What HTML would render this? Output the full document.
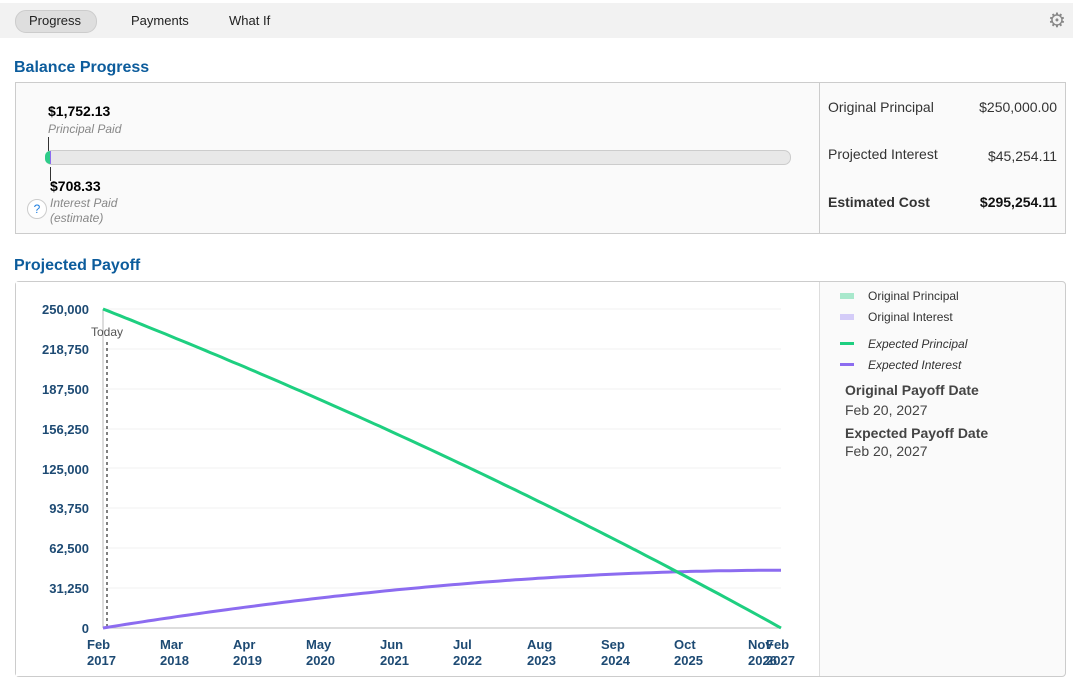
<!DOCTYPE html><html><head><style>
body{margin:0;width:1073px;height:685px;background:#fff;font-family:"Liberation Sans",sans-serif;position:relative;overflow:hidden}
.a{position:absolute}
.tab{font-size:13px;color:#222;top:13px}
h2{position:absolute;margin:0;font-size:16px;color:#0c5c9c;font-weight:bold}
.box{position:absolute;border:1px solid #ccc;background:#fafafa}
.r{font-size:14px;color:#333}
.yl{position:absolute;font-size:13px;font-weight:bold;color:#1d4a73;text-align:right;width:80px;left:9px}
.xl{position:absolute;font-size:13px;font-weight:bold;color:#1d4a73;line-height:16px;top:637px}
.lg{position:absolute;font-size:12px;color:#333;left:868px}
</style></head><body>
<div class="a" style="left:0;top:3px;width:1073px;height:35px;background:#f2f2f2"></div>
<div class="a" style="left:15px;top:10px;width:80px;height:21px;border-radius:11px;background:#dedede;border:1px solid #ccc"></div>
<div class="a tab" style="left:29px">Progress</div>
<div class="a tab" style="left:131px">Payments</div>
<div class="a tab" style="left:229px">What If</div>
<div class="a" style="left:1048px;top:8px;font-size:20px;color:#888">⚙</div>
<h2 style="left:14px;top:59px">Balance Progress</h2>
<div class="box" style="left:15px;top:82px;width:1049px;height:150px"></div>
<div class="a" style="left:819px;top:83px;width:1px;height:150px;background:#ccc"></div>
<div class="a" style="left:48px;top:103px;font-size:14px;font-weight:bold">$1,752.13</div>
<div class="a" style="left:48px;top:122px;font-size:12px;font-style:italic;color:#888">Principal Paid</div>
<div class="a" style="left:48px;top:137px;width:1px;height:14px;background:#333"></div>
<div class="a" style="left:45px;top:150px;width:744px;height:13px;border-radius:7px;background:#e8e8e8;border:1px solid #ccc"></div>
<div class="a" style="left:45px;top:151px;width:5px;height:13px;border-radius:7px 0 0 7px;background:#2ecc8a"></div>
<div class="a" style="left:50px;top:151px;width:1px;height:13px;background:#8c6cf0"></div>
<div class="a" style="left:50px;top:167px;width:1px;height:14px;background:#333"></div>
<div class="a" style="left:50px;top:178px;font-size:14px;font-weight:bold">$708.33</div>
<div class="a" style="left:50px;top:196px;font-size:12px;font-style:italic;color:#888;line-height:15px">Interest Paid<br>(estimate)</div>
<div class="a" style="left:27px;top:199px;width:18px;height:18px;border-radius:50%;border:1px solid #ccc;background:#fff;color:#1e7ee0;font-size:12px;text-align:center;line-height:18px">?</div>
<div class="a r" style="left:828px;top:99px">Original Principal</div><div class="a r" style="right:16px;top:99px">$250,000.00</div>
<div class="a r" style="left:828px;top:146px">Projected Interest</div><div class="a r" style="right:16px;top:148px">$45,254.11</div>
<div class="a r" style="left:828px;top:194px;font-weight:bold">Estimated Cost</div><div class="a r" style="right:16px;top:194px;font-weight:bold;color:#111">$295,254.11</div>
<h2 style="left:14px;top:257px">Projected Payoff</h2>
<div class="box" style="left:15px;top:281px;width:1049px;height:394px;border-radius:4px"></div>
<div class="a" style="left:16px;top:282px;width:803px;height:394px;background:#fff"></div>
<div class="a" style="left:819px;top:282px;width:1px;height:394px;background:#ddd"></div>
<svg class="a" style="left:0;top:0" width="1073" height="685">
<g stroke="#f0f0f0"><line x1="103" x2="781" y1="309" y2="309"/><line x1="103" x2="781" y1="349" y2="349"/><line x1="103" x2="781" y1="389" y2="389"/><line x1="103" x2="781" y1="429" y2="429"/><line x1="103" x2="781" y1="468" y2="468"/><line x1="103" x2="781" y1="508" y2="508"/><line x1="103" x2="781" y1="548" y2="548"/><line x1="103" x2="781" y1="588" y2="588"/></g>
<line x1="103" y1="309" x2="103" y2="628" stroke="#bbb"/><line x1="103" y1="628" x2="781" y2="628" stroke="#bbb"/>
<line x1="107" y1="342" x2="107" y2="628" stroke="#000" stroke-dasharray="3,3"/>
<text x="91" y="336" font-size="12" fill="#555" font-family="Liberation Sans">Today</text>
<path id="pi" fill="none" stroke="#8c6cf0" stroke-width="3"/>
<path id="pp" fill="none" stroke="#1ecf80" stroke-width="3"/>
</svg>
<div class="yl" style="top:302px">250,000</div><div class="yl" style="top:342px">218,750</div><div class="yl" style="top:382px">187,500</div><div class="yl" style="top:422px">156,250</div><div class="yl" style="top:462px">125,000</div><div class="yl" style="top:501px">93,750</div><div class="yl" style="top:541px">62,500</div><div class="yl" style="top:581px">31,250</div><div class="yl" style="top:621px">0</div>
<div class="xl" style="left:87px">Feb<br>2017</div><div class="xl" style="left:160px">Mar<br>2018</div><div class="xl" style="left:233px">Apr<br>2019</div><div class="xl" style="left:306px">May<br>2020</div><div class="xl" style="left:380px">Jun<br>2021</div><div class="xl" style="left:453px">Jul<br>2022</div><div class="xl" style="left:527px">Aug<br>2023</div><div class="xl" style="left:601px">Sep<br>2024</div><div class="xl" style="left:674px">Oct<br>2025</div><div class="xl" style="left:748px">Nov<br>2026</div><div class="xl" style="left:766px">Feb<br>2027</div>
<div class="a" style="left:840px;top:293px;width:14px;height:6px;background:#a8e8cc"></div><div class="lg" style="top:289px">Original Principal</div>
<div class="a" style="left:840px;top:314px;width:14px;height:6px;background:#d4ccf8"></div><div class="lg" style="top:310px">Original Interest</div>
<div class="a" style="left:840px;top:342px;width:14px;height:3px;background:#1ecf80"></div><div class="lg" style="top:337px;font-style:italic">Expected Principal</div>
<div class="a" style="left:840px;top:363px;width:14px;height:3px;background:#8c6cf0"></div><div class="lg" style="top:358px;font-style:italic">Expected Interest</div>
<div class="a" style="left:845px;top:382px;font-size:14px;font-weight:bold;color:#444">Original Payoff Date</div>
<div class="a" style="left:845px;top:402px;font-size:14px;color:#444">Feb 20, 2027</div>
<div class="a" style="left:845px;top:425px;font-size:14px;font-weight:bold;color:#444">Expected Payoff Date</div>
<div class="a" style="left:845px;top:443px;font-size:14px;color:#444">Feb 20, 2027</div>
<script>
var b=250000,r=708.33/250000,P=2460.45,ci=0,dp="M103,309",di="M103,628";
for(var m=1;m<=120;m++){var i=b*r;ci+=i;b-=P-i;if(b<0)b=0;var x=103+m*678/120;
dp+=" L"+x.toFixed(1)+","+(628-b/250000*319).toFixed(1);di+=" L"+x.toFixed(1)+","+(628-ci/250000*319).toFixed(1);}
document.getElementById("pp").setAttribute("d",dp);document.getElementById("pi").setAttribute("d",di);
</script>
</body></html>
